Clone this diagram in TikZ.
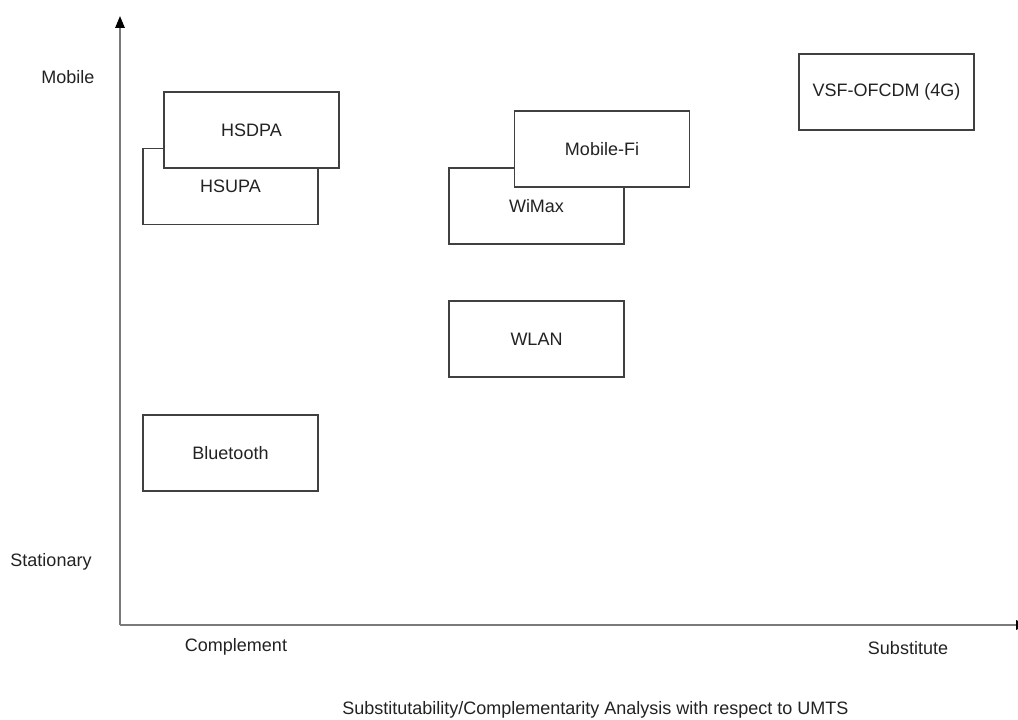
\documentclass[tikz,border=0pt]{standalone}
\usepackage{fontspec}
\setmainfont{Liberation Sans}
\usetikzlibrary{arrows.meta}
\definecolor{axisgray}{HTML}{7A7A7A}
\definecolor{boxline}{HTML}{404040}
\definecolor{ink}{HTML}{222222}
\begin{document}
\begin{tikzpicture}[x=0.75pt,y=-0.75pt,
  every node/.style={font=\fontsize{13.5}{16}\selectfont, text=ink},
  techbox/.style={draw=boxline, line width=0.9pt, fill=white, inner sep=0pt,
    minimum width=131.25pt, minimum height=57pt},
  axisline/.style={draw=axisgray, line width=1.5pt,
    -{Triangle[length=9pt,width=7pt,color=black]}},
  axislabel/.style={inner sep=0pt}]
\useasboundingbox (0,0) rectangle (1018,720);

% axes
\coordinate (origin) at (120,625);
\coordinate (ytop) at (120,16);
\coordinate (xend) at (1028,625);
\draw[axisline] (origin) -- (ytop);
\draw[axisline] (origin) -- (xend);

% axis labels
\node[axislabel] (mobile) at (68,77.5) {Mobile};
\node[axislabel] (stationary) at (51,562) {Stationary};
\node[axislabel] (complement) at (236,646.5) {Complement};
\node[axislabel] (substitute) at (908,648.5) {Substitute};

% technologies
\node[techbox] (hsupa) at (230.5,186.5) {HSUPA};
\node[techbox] (hsdpa) at (251.5,130) {HSDPA};
\node[techbox] (wimax) at (536.5,206) {WiMax};
\node[techbox] (mobilefi) at (602,149) {Mobile-Fi};
\node[techbox] (wlan) at (536.5,339) {WLAN};
\node[techbox] (bluetooth) at (230.5,453) {Bluetooth};
\node[techbox] (vsf) at (886.5,92) {VSF-OFCDM (4G)};

% caption
\node[axislabel, anchor=base west] (caption) at (342,714)
  {Substitutability/Complementarity Analysis with respect to UMTS};
\end{tikzpicture}
\end{document}
